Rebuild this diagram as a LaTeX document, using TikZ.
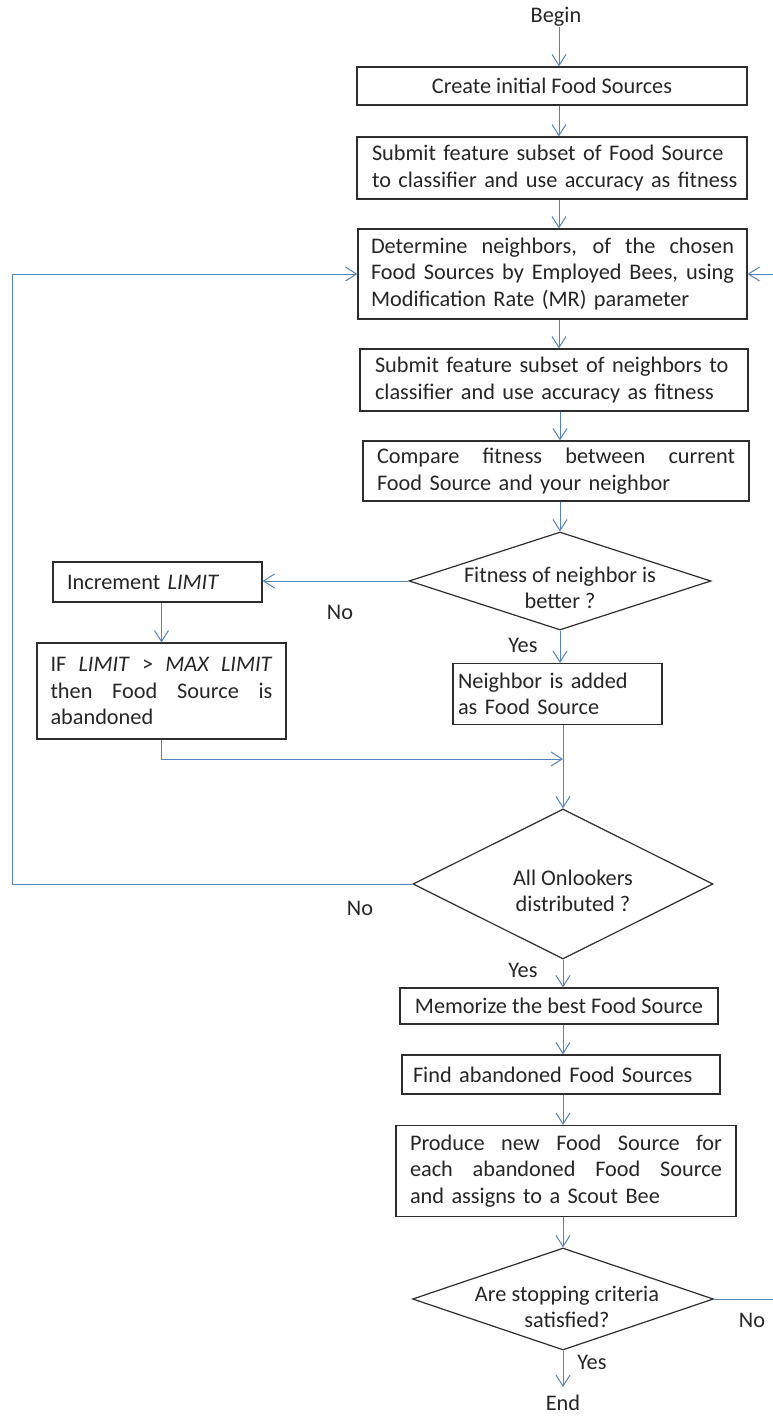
\documentclass[tikz,border=0pt]{standalone}
\usepackage{fontspec}
\setmainfont{Carlito}
\usetikzlibrary{shapes.geometric,arrows.meta}
\definecolor{conn}{RGB}{84,130,186}
\definecolor{bord}{RGB}{45,45,45}
\newcommand\jl[2]{{\spaceskip=0.3em plus 10em\xspaceskip=0.3em plus 10em\makebox[#1pt][s]{#2}}}
\newcommand\ml[1]{\mbox{#1}}
\begin{document}
\begin{tikzpicture}[x=1pt,y=-1pt,
  every node/.style={font=\fontsize{22.3}{26.5}\selectfont, text=black!85},
  box/.style={draw=bord, line width=1.2pt, inner sep=0pt, align=left},
  dia/.style={draw=bord, line width=1.2pt, diamond, inner sep=0pt},
  lbl/.style={inner sep=0pt, align=center},
  arr/.style={draw=conn, line width=1pt, -{Straight Barb[length=11pt,width=14pt]}},
  ln/.style={draw=conn, line width=1pt}
]
\useasboundingbox[fill=white] (0,0) rectangle (772,1418);
\coordinate (colA) at (559,0);
\coordinate (colB) at (563,0);
\coordinate (lft) at (12,0);
\coordinate (rgt) at (790,0);
\coordinate (m) at (563,759);

\node[lbl] (begin) at (556,17) {Begin};
\node[box, minimum width=390, minimum height=38, align=center] (b1) at (552,86) {Create initial Food Sources};
\node[box, minimum width=390, minimum height=62, text width=360] (b2) at (552,168)
  {\ml{Submit feature subset of Food Source}\\\ml{to classifier and use accuracy as fitness}};
\node[box, minimum width=389, minimum height=90, text width=363] (b3) at (552.5,274)
  {\jl{363}{Determine neighbors, of the chosen}\\\jl{363}{Food Sources by Employed Bees, using}\\\ml{Modification Rate (MR) parameter}};
\node[box, minimum width=388, minimum height=62, text width=358] (b4) at (554,380)
  {\ml{Submit feature subset of neighbors to}\\\ml{classifier and use accuracy as fitness}};
\node[box, minimum width=386, minimum height=60, text width=358] (b5) at (556,471)
  {\jl{358}{Compare fitness between current}\\\ml{Food Source and your neighbor}};
\node[dia, minimum width=302, minimum height=98] (d1) at (560,581) {};
\node[lbl] (d1t) at (560,588) {Fitness of neighbor is\\better ?};
\node[box, minimum width=209, minimum height=40, text width=181] (inc) at (157.5,582) {\ml{Increment \textit{LIMIT}}};
\node[box, minimum width=249, minimum height=96, text width=222] (ifb) at (161.5,691)
  {\jl{222}{IF \textit{LIMIT} > \textit{MAX LIMIT}}\\\jl{222}{then Food Source is}\\\ml{abandoned}};
\node[box, minimum width=209, minimum height=61, text width=199] (nb) at (557.5,694)
  {\ml{Neighbor is added}\\\ml{as Food Source}};
\node[dia, minimum width=300, minimum height=150] (d2) at (563,884) {};
\node[lbl] (d2t) at (573,891) {All Onlookers\\distributed ?};
\node[box, minimum width=318, minimum height=36, align=center] (memo) at (559,1006) {Memorize the best Food Source};
\node[box, minimum width=318, minimum height=39, text width=296] (find) at (561,1074.5) {\ml{Find abandoned Food Sources}};
\node[box, minimum width=340, minimum height=91, text width=312] (prod) at (566,1171)
  {\jl{312}{Produce new Food Source for}\\\jl{312}{each abandoned Food Source}\\\ml{and assigns to a Scout Bee}};
\node[dia, minimum width=301, minimum height=102] (d3) at (563,1299) {};
\node[lbl] (d3t) at (567,1307) {Are stopping criteria\\satisfied?};
\node[lbl] (end) at (563,1403) {End};

\node[lbl] (no1) at (340,612) {No};
\node[lbl] (yes1) at (523,645) {Yes};
\node[lbl] (no2) at (360,908) {No};
\node[lbl] (yes2) at (523,970) {Yes};
\node[lbl] (no3) at (752,1320) {No};
\node[lbl] (yes3) at (592,1362) {Yes};

% main column
\draw[arr] (begin.south -| colA) -- (b1.north -| colA);
\draw[arr] (b1.south -| colA) -- (b2.north -| colA);
\draw[arr] (b2.south -| colA) -- (b3.north -| colA);
\draw[arr] (b3.south -| colA) -- (b4.north -| colA);
\draw[arr] (b4.south -| d1.north) -- (b5.north -| d1.north);
\draw[arr] (b5.south -| d1.north) -- (d1.north);
\draw[arr] (d1.south) -- (nb.north -| d1.south);
\draw[arr] (nb.south -| colB) -- (d2.north);
\draw[arr] (d2.south) -- (memo.north -| d2.south);
\draw[arr] (memo.south -| colB) -- (find.north -| colB);
\draw[arr] (find.south -| colB) -- (prod.north -| colB);
\draw[arr] (prod.south -| colB) -- (d3.north);
\draw[arr, shorten >=8pt] (d3.south) -- (end.north -| d3.south);

% no branch of d1
\draw[arr] (d1.west) -- (d1.west -| inc.east);
\draw[arr] (inc.south -| ifb.south) -- (ifb.north);
\draw[arr] (ifb.south) -- (ifb.south |- m) -- (m);

% loops
\draw[arr] (d2.west) -- (d2.west -| lft) -- (lft |- b3.west) -- (b3.west);
\draw[arr] (d3.east) -- (d3.east -| rgt) -- (rgt |- b3.east) -- (b3.east);
\end{tikzpicture}
\end{document}
